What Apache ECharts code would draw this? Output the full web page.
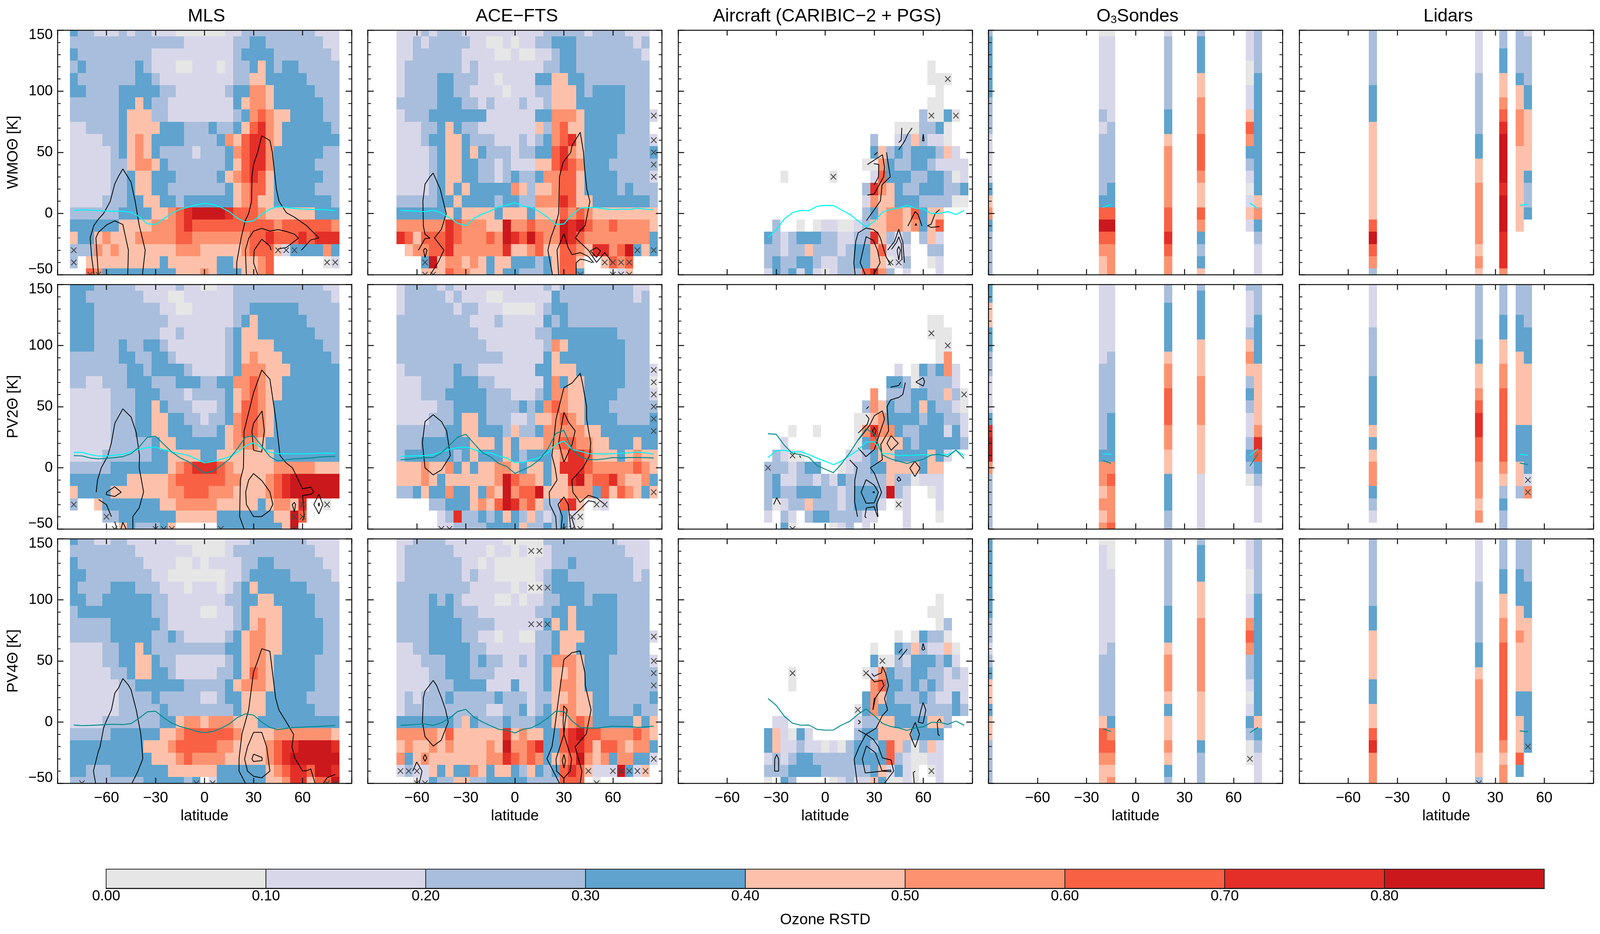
<!DOCTYPE html>
<html><head><meta charset="utf-8">
<style>html,body{margin:0;padding:0;background:#fff;overflow:hidden}#c{height:2391px}</style>
<script src="https://cdn.jsdelivr.net/npm/echarts@6/dist/echarts.min.js"></script>
</head><body><div id="c"></div>
<script>
// Each row string is one theta level (150 down to -50 K, every 10 K); each character a 5-degree latitude bin.
// Digit n means RSTD in [n/10, (n+1)/10); '.' means no data.
const MLS_WMO=["322111212211100000011222222222111","22222222222222 111111 22 33 2222222 11","3 222222222 1111111111 2 3333 2222222 1","2 3 222222 3 2 111 00 111 0 1 22 3 4 3 2 33 22222","3 2222222 33 2 111111111 22 44 33333 2222","33 2222 33333 22 111111 2 33 55 4 33333 222","222222 33 4 3 22 11111111 3 4 55 4 333333 22","222222 3 444 22 11111111 2 3 5 6 5 44 3333 22","11 2222 3 4444 333 222 3 22 3 4 6 7 5 4 333333 2","1111 22 3 4 5 4 3333 2222 3 5 4 6 77 5 4 3333333","11111 2 3 4 5 4 3 2222 1 222 3 5 6 77 5 333333 22","11111 22 4 55 4 3 2222222 3 4 6 77 5 33333 222","11111 22 3 44 333 22222 3 4 5 6 7 6 4 333333 22","11111 22 3 44 33 2222222 3 4 5 66 4 33333 222","1111 222 33 44 33 2 333333 4 5 6 4 4 3333333 2","222222 3333 44 5 6 7 8888 7 666 5 444444 333","333333 4444 555 6 7 6666666666 5 666666 5","4 33 4 5 444 55555 66 555555 5 66 7 666 7 6 777","222 5 4 5 4444444 555 44444 5 666 4 1 3333 5 3","2 . 444444444 3 444444 33 444 5 6 ...... 0 1",".. 6 5 333333333 444 5 4 333 44 5 6 ........"];
const MLS_PV2=["333 22222 11111 2 11 00 11 22222222222 11","33 2222222 111 00 111111 222222222222 1","333 22222222 11 00 11111 22 333333 22222","333 222222222 11111111 2 3 4 333333 2222","333 22222222 11 2 11111 2 3 44 3333333 222","333 222 3 22 33 2 1111111 2 3 4444 333333 22","222222 33 22 33 2 111111 2 3 4 5 444 333333 2","2222222 33 2 3333 2 1111 2 3 555 444 333333","22 11 222 333 222 333 22 33 55 6 5 44 3333333","11111 222 333 222 1 2222 3 4 5 6 5 44 3333333","11111 222 33 4 3 222 111 2 3 4 66 5 4 33333333","11111 222 33 44 33 22 1 22 3 5 66 5 4 33333333","11111 222 33 44 333 222 3 4 5 66 5 4 33333333","11111 222 22 3 44 333333 4 5 5 5 4 3 33333333","1111 222222 33 4444 33 4444444 33333333","22222 3333333 4 5 6 777 6 5 44444 55555 444","3333333 44444 5 666666 55 444 5 6 7 888888","4 3333 4444444 55 666 555 4444 5 6 7 888888","2 .. 4 3333333 44 55555 44444 3 4 55 4 7 .. 0 .",".... 22 3333333 44444 3333333 44 8 6 ....","..... . 4 3 222 3 4 ..... 33333333 4 8 ....."];
const MLS_PV4=["3 22 11 22 111111 000000 111 2222222 1111","22222222 1111111 0000 1 2222222222 111","3 22222222 1111 00 1 0 1111 22 33 222222 11","33 22222222 11 0000000 11 2 33333 22222 1","3 2222 333 222 111 0 111 0 1 2 3 4 333333 2222","33 22 333333 22 1111111 22 33 44 33333 222","2 333333333 22 1111 00 11 2 3 4444 3333 222","22222 333333 2 11111111 2 3 4 5 44 33333 22","22222 33333 22 3 2 11111 2 3 4 55 44 33333 22","1111 22 33 4 3 222222222 33 4 55 44 33333 22","1111 22 33 44 3 22 111111 2 3 4 55 4 33333 222","11111 22 3 44 33 2 11111 22 3 4 6 5 4 33333 222","111111 22 333333 22222 3 4 555 4 33333 222","111111 2222 3 22222 11 2 33 444 33333 2222","111111 22222 3 22222222 3 444 333333 222","1111 2222222 33 4 55 4 555 444 3333333333","22222 333333 44 5 666666 5 4444 5555555 4","333333333 444 5 66666 55 4444 5 6 77 8888 7","3333333333 444 5 6 5555 44444 5 6 7 888888","33 222 3333333 444444 333333 4 5 6 77 6 88 7","222222222 33333 2 3 . 1 333333 44 5 77 4 6 6 8"];
const ACE_WMO=["111 2 1 222 1111111111 22222 1 2222 111 .","11 2 1 22222 11 00 1 0 11 22 333 2222222 1 2 .","11 222222 1111 00 1 00 11 2 33 22222222 1 .","1 2222222 1 2 11111111 22 33 222222222 .","1 2222 33 222 11 0 1111 33 44 33 22222222 .","1 2222 33 22 1111 0 111 22 444 3 2 3333 222 .","22222 333 22 1 2 111 2 11 2 444 333333 222 .","1 222 3333333 111111 33 555 4 33333 222 1","111 22 3 4 3 22 1111111 4 2 5 6 44 33333 222 .","111 2 33 44 3 222 111 2 1 2 3 5 6 7 4 3333 2222 1","1111 2 3 44 3 4 3 222 1 22 33 6 7 5 4 3333 2222 3","1111 2 3 44 33 22 1 2 111 44 6 7 6 5 333 222222","1111 2 3 44 33 22 1 2 3 22 3 55 66 4 3333 2222 1","1111 2 3 4 3 4 33333 5 4 2 44 5 66 4 3333 2 3 222","22222 33 4 3333 2 33 22 555 7 6 44 3333333 2","333333 4 3 4444 3 444 3 444 6 5 6 5 44444444","555555 7 6 555 44 8 55 6 555 8 7 8 6 55 6 5555 4","7 6 4 666 7 6 555 6 5 8 7 6 8 6 55 8 7 6 55555555 3",". 4 55 66 7 555555 7 44 5 6 44 66 5 4 77 5 6 8 3 4 3","... 3 8 4 55 4 5 4 3 44 333 2 3 4 66 4 .. 4 6 5 6 ...","... 44 4 6 55 44 3 4 33 222 3 4 66 3 ... 0 1 4 ..."];
const ACE_PV2=["1 2222 1 2 11111111111 2 1 222222222 11 .","1 22222 1 2 111 00 111111 3 222222222 1 2 .","1 222222 1 22 111 0000 1 2 33 2222222222 .","222222222 111 2 11111 3 2 3 2222222222 .","2222222222 1111111 22 33333333 2222 .","22222222222 1111111 2 5 4 3333333 222 .","2222222222222 11111 3 4 33333333 222 .","1 222222 3 22 1111111 33 444 333333 222 1","111 2222 333 22 111111 3 5 3 44 33333 222 0","111 222 33333 222 111 2 3 55 44 3333 2222 1","11111 22 3333 2222 3 2 3 5 6 5 44 333 22222 2","1111 222 3 44 3 222 11 2 44 5 6 5 4 3333 2222 3","222222 33 44 333 2 4 22 3 55555 44 3333333","222 33333 3 444 3 4 3 444 55 66 55 44 333 4 33","2 333333 2 3 4 333 4 3 2 333 4 5 77 6 444 3 4 5 44","444 5 44 5 3 4 3 44 55 4 3 44 3 4 777 6 55555 6 5 4","444 5 4 3 444444 5 8 6 55 4 3 44 7 8 5 66 7 5 44 5 3","22 3 4 33 5 33 4 3 5 4 8 5 66 8 4 44 555 3 6 4 6 5 4 3 4",".... 22 333 4 5 4 6 8 7 5 6 4 22 6 7 4 . 0 1 ......","..... 1 2 7 22 3 2 3 4 3 2 4 2 1 2 3 1 0 .........","..... 11 2222 3333 4 22 3 2 3 1 0 ........."];
const ACE_PV4=["11 2222 1111111 00000 222222222 1111 .","1 222222 1111 0 11 0 1 00 1 222222222 111 .","1 2222222 11 0 1 00000 11 22 3 2222222 11 .","1 2222222 1 2 11 00000 1 2 33 22222222 1 2 .","222222222 11111 0 1 00 2 3333 22222222 .","2222 3 2 3 2 1111 00 1 0 11 22 333 2 333 2222 .","2222 333 222 1111111 22 33 4 33333 2222 .","2222 3333 2222 111111 3 4 3 4 33333 2222 .","2222 3333 22 11 0 11 00 22 3 444 3333 2222 1","11 22 33333 22 111111 22 3 44 33333 2222 .","111 222 333 2 3 22 11 2 1 2 3 555 4 333 22222 1","1111 22 333 222 11111 2 3 44 5 4 333 22222 2","1111 222 3333 111 3 11 2 3 4 55 4 333 22222 2","1 2 1 222 3 22222 3 222 1 22 44 5 44 33 22222 3","1 2222222222 11 22 3 1 2 3 4 55 44 33 222 3 22","3333333 2 4 3 222 3 222 33 44 5 6 5 33333 4 3 4","55555 4 6 444444 7 4 5 44 33 6 7 8 66 5555 6 5 4","4 5 44 5 4 5 4444 5 4 8 55 6 7 33 6 77 6 4 66 5 4 55 3","5 3 4 5 4444444 55 7 6 5 6 5 3 4 5 6 8 5 4 5 3 55 33 1","1 2 11 4 3 4 33 5 4 3 44 3 2 4 3 2 3 6 7 6 4 111 8 3 1 4 .",".. 0 1 3 22 44 22 33333 2222 666 . 0 ......."];
const AIR_WMO=["","","","....................0","....................000",".....................0","....................00","...................2 0 0 3 0","................000 22 3 0",".............2..1 2 4 2 11 0",".............3 4 2 3 2 333 2 4 1","............00 5 3 22 33 2 1111","..0.....0....1 6 333 22 33 2 0 1","............2 7 5 4 3 22 333 22 3","............1 5 44 333 2222 00","............2 3 4 55 4 6 3 44",".2..0.0 11 00 1 2 44 55 4 5 3 4 6","3 2 1 2 333 22 11 22 7 4 2 1 2 . 2 4 1","22 1 22 4 222 1 2 33 4 6 1 1 1 .. 22","2 3 22 33 2 11 22 33 44 0 1 2 .. 0 1","1 3 2 3 1 3 1 0 1 22 2 6 7 5 2 . 1 ... 1"];
const AIR_PV2=["","","","....................00","....................000",".....................00",".....................0 5","................1 . 0 3 2 3 5 1","...............33 2 0 2222 1",".............5 . 2 2 2 33 22 4 2 0","............2 5 4 3 22 3 4 3 22 1 0","...........00 4 5 3333 2 33 22 1","...0..0....0 5 7 55 3 22 333 1 3 1","..1........0 3 6 444 3 2 33333 2",".2 1 00 ..... 11 2 3 44 3333 4 3 1","222 1 2 33 .. 0 1 22 33 4444 3 44","2 3 11 22 1 2 1 3 22222 4 22 0 111","2 3 22 333 22 1 2 333 2 8 2 1 .. 0 1","2 0 1 22 4 222 1 2 333 1 . 0 1 ... 1","1 . 2 1 . 2 33 2222 11 ... 1 ... 0","..3 0 ....0 1 2 . 1 .... 1"];
const AIR_PV4=["","","","","",".....................0","....................00",".....................0 2","................0 . 0 3 22 0",".............0 .. 3 2 4 2 11 4 0",".............3 00 2 1 333 2 3 1","...0........0 1 5 3 22 33 22 1 2 1","...0.........5 6 33 2 3 2 3 2 111","............3 5 4 3 222 3 2 11 3 1","...........0 3 5 3333 22222 3 2",".11........1 22 44 3333 44 2","3 4 1 0 3 1 ..... 2 33 4444 3333","3 4 11 2 11 0 1 0 2 33 2 3 6 4 2 0 2 4 1","1 2 1 2 33 22222 3333 6 2 1 00 11","222 3333 222222 3 4 1 3 1 0 . 0 1","0 . 3 2 .... 0 1 2 11 4 3 00 1 0 .. 1"];
// Station columns: latitude -> bins from 150 K down to -50 K
const SONDE_WMO={"-90":"2 33333 222 1111 3 4 5 3 2222","-20":"0 111111 2 1 22222 3 6 8 6 5 4 4","-15":"0 1111111 22222 33 6 8 6 555","20":"1 222222 33 4 55555 66 7 6 55","40":"2 333 44 555 666 5 44 6 5 3 2 3 4","70":"111 00 11 4 6 5 3 2 1 0 1 4 1 ....","75":"2222 3333333333 4 5 3 2 111"};
const SONDE_PV2={"-90":"33 44 33 22 111 3 7 88 5 22222","-20":"1111111 2222222 3 55 4 5 4 5","-15":"111111 22222 3333 5 6 5 55 6","20":"22 3333 4 55 666 55 44 333 22","40":"2 3333 444 5555 4444 11111","70":"2 111 2 4 5 4 2 3 2 11 2 3 2 0 ....","75":"222 3333 44444 5 7 6 3 2 111 ."};
const SONDE_PV4={"-90":"3333333 22 1 2 3 44 3 44 2222","-20":"0 111111111 22222 4 66 5 44","-15":"000 111111 222222 3 5 6 5 4 5","20":"222222 333 4 555 4 3 44 5 4 3 2","40":"2 333 444 555555 4444 3 222","70":"111 00 11 5 6 5 22 1 0 1 3 2 00 ..","75":"22222 3333333333 4 3 2 111"};
const LIDAR_WMO={"-45":"22222 333 44444444 6 8 6 5 2","20":"1111 22222 33 44 55555 4 5 4","35":"22 33 44 5 6 7 8888 7 888 777 5","45":"2222 3 44 555 4444444 ....","50":"1 2222 33 44444 3 22 3 ....."};
const LIDAR_PV2={"-45":"1111 2222 3333 4 3 4 55 3 2 1 .","20":"22222 33 44 5 6 77 66 555 4 5 .","35":"222 33 44 55 666666 5 4 2 3 22","45":"222 333 444444 333 44 2 ...","50":"2222 333 44444 3333 1 5 ..."};
const LIDAR_PV4={"-45":"222222 33 4444 33 44 6 7 555","20":"1111 22222 33 4 555555 44 2","35":"222 33 44 55 66666666 5 4 55","45":"222 333 44 5 4444 33 444 6 3 .","50":"2222 333 444444 33 333 ..."};

// Flagged bins (lat, theta)
const X_MLS_WMO=[[-80,-30],[45,-30],[50,-30],[55,-30],[-80,-40],[75,-40],[80,-40],[-70,-50],[-65,-50]];
const X_MLS_PV2=[[-80,-30],[60,-30],[75,-30],[-60,-40],[55,-40],[60,-40],[-55,-50],[-30,-50],[-25,-50],[-20,-50],[10,-50],[55,-50]];
const X_MLS_PV4=[[-75,-50],[-5,-50],[5,-50],[75,-50],[80,-50]];
const X_ACE_WMO=[[85,80],[85,60],[85,50],[85,40],[85,30],[75,-30],[85,-30],[-55,-40],[55,-40],[60,-40],[65,-40],[70,-40],[-55,-50],[-50,-50],[40,-50],[60,-50],[65,-50],[70,-50]];
const X_ACE_PV2=[[85,80],[85,70],[85,60],[85,50],[85,40],[85,30],[85,-20],[50,-30],[55,-30],[35,-40],[40,-40],[-45,-50],[-40,-50],[30,-50],[35,-50],[40,-50]];
const X_ACE_PV4=[[10,140],[15,140],[10,110],[15,110],[20,110],[10,80],[15,80],[20,80],[85,70],[85,50],[85,40],[85,30],[85,-30],[-70,-40],[-65,-40],[-60,-40],[45,-40],[60,-40],[65,-40],[70,-40],[75,-40],[80,-40],[-60,-50],[-55,-50],[50,-50]];
const X_AIR_WMO=[[75,110],[65,80],[80,80],[5,30],[40,-40],[45,-40]];
const X_AIR_PV2=[[65,110],[75,100],[85,60],[-20,10],[-35,0],[45,-30],[-20,-50]];
const X_AIR_PV4=[[35,50],[-20,40],[25,40],[20,10],[65,-40]];
const X_SONDE_PV4=[[70,-30]];
const X_LIDAR_PV2=[[50,-10],[50,-20]];
const X_LIDAR_PV4=[[20,-50],[50,-20]];

// Tropopause curves: theta every 5 degrees latitude, from the first latitude named in the panel table
const CYAN_MLS_WMO=[2.5,3,2.8,2.3,2,1.8,1.9,1,-2.6,-8.4,-9,-4.3,.3,3.4,5.1,7.2,8.4,7.5,5.1,1.6,-3.7,-7,-6,-.7,3.4,5.9,4.8,4.1,3.7,3.4,3.2,2.9,2.5];
const CYAN_ACE_WMO=[2.5,2.2,1.8,1.5,2.7,.4,-3.5,-8,-10,-4,-.5,2,5.4,6.7,9,6,5,1.5,-3,-9,-8.6,-1,4.4,4.8,4.9,3.8,3.2,3.6,3.4,4.3,3.5,3.1];
const CYAN_AIR_WMO=[-19.5,-13.6,-4.4,.7,2.5,2.3,5.9,6.6,6.5,2.9,-.7,-5.9,-11,-6.6,1,3.4,4.4,6.7,4.4,3.7,0,0,1.6,-.9,2.5];
const CYAN_MLS_PV2=[12.5,12.6,10.8,9.6,9.7,10.2,11,12.9,15,16.5,16.9,14.8,12.9,11.5,10.2,7.2,4,5.1,6.9,8.9,12.5,18,20.5,16.3,12.7,11.6,11.4,11.4,11.4,11.5,11.9,12,11.9];
const TEAL_MLS_PV2=[10,9.7,8,7.3,7.8,8.3,9.1,11.5,17,25,25.8,19.4,12.9,8.2,5.1,.4,-4.4,-2.8,1.7,6.9,15.5,24.9,26.3,17.7,9.1,5.5,6.6,7.3,7.6,8,8.7,9.1,9.3];
const CYAN_ACE_PV2=[9.3,9.6,9.8,10,10.8,12.9,15,16.5,17,15,12.2,12.2,9.7,8,4.3,4.4,6.6,8.3,12.2,19,22,15,13.6,11.5,11.4,11.2,11.6,11.8,12.2,12.9,12.2,11.2];
const TEAL_ACE_PV2=[6.6,7,7.8,8.4,8.2,12.2,18.4,25,27.4,19.8,12.5,9.1,3.6,1.1,-4.6,-1.7,1.5,6.6,15,28,30.6,15,9.1,6.6,6.6,7.3,8.4,8,8.4,8.4,8.3,8];
const CYAN_AIR_PV2=[8.4,14,14.3,12.9,13.2,10.8,7.8,5.3,2.5,5.5,10,14.3,21,21.3,11.5,11.4,9.8,10.2,10.2,10.8,10.2,11.2,10.7,14.3,10];
const TEAL_AIR_PV2=[27.8,27.4,18.4,11.8,10.8,8.6,1.8,-1.2,-4,3.2,12.2,22.6,32,27.7,10.5,7.3,5.3,3.6,5.3,7,10.5,11,9,14.5,7.6];
const TEAL_MLS_PV4=[-2.4,-2.9,-2.7,-2.4,-2,-1.8,-2.1,-1.2,3.2,8.4,8.9,3.6,-.9,-3.6,-5.4,-7.5,-8.6,-7.8,-5.1,-1.7,3.6,6.8,5.7,0,-4.4,-6.2,-5.1,-4.4,-4.1,-3.8,-3.5,-3.2,-2.7];
const TEAL_ACE_PV4=[-2.7,-2.3,-1.8,-1.5,-2.7,-.6,3.2,8.7,10.4,3.9,.2,-2.9,-5.9,-6.6,-8.9,-5.9,-4.8,-1.4,3.2,8.9,8.7,.9,-4.4,-4.8,-5,-4.1,-3.3,-3.5,-3.5,-4.4,-3.9,-3.3];
const TEAL_AIR_PV4=[19.3,13.7,4.7,-.9,-2.6,-2.4,-6,-6.6,-6.5,-2.4,.6,6.2,10.7,5.4,-1.1,-3.6,-4.8,-6.8,-4.8,-3.9,-.2,-.2,-1.8,.8,-2.6];
// Short pieces on the station panels: [lat,theta] pairs
const CYAN_SONDE_WMO=[[[-20,5],[-15,7.5]],[[70,8.6],[75,3.7]]];
const CYAN_LIDAR_WMO=[[[45,6.7],[50,7.5]]];
const CYAN_SONDE_PV2=[[[-20,11.4],[-15,11]],[[70,10],[75,15.6]]];
const TEAL_SONDE_PV2=[[[-20,6],[-15,3.6]],[[70,1.5],[75,11.5]]];
const CYAN_LIDAR_PV2=[[[45,11.2],[50,10.2]]];
const TEAL_LIDAR_PV2=[[[45,3.9],[50,2.6]]];
const TEAL_SONDE_PV4=[[[-20,-5.5],[-15,-7.6]],[[70,-8.7],[75,-4.2]]];
const TEAL_LIDAR_PV4=[[[45,-7.2],[50,-7.9]]];

// Contours as [lat,theta,lat,theta,...]
const C_MLS_WMO=[
[-67.6,-50,-69,-36.7,-70,-20,-67.8,-10,-65,-4.7,-61.8,0,-57.7,10,-55,24,-52.6,30.5,-50,36.4,-47,30,-45,25.7,-42.5,10.3,-40,-9.5,-36.3,-30,-38,-50],
[-65,-50,-66,-30,-66.5,-20,-65,-15.5,-60,-9.4,-55,-6,-50,-9,-46.6,-30,-47,-50],
[19.7,-50,19.7,-40,22.4,-20,25,-5.6,27,0,28.8,10,29,30,30,40.3,32.5,50,35,63.5,40,59.7,41.5,50,44,19.8,45.6,10,50,.7,55,-3,62.5,-10,70,-20,65,-21.6,59.3,-30],
[25.6,-50,25,-30,27,-20.5,30,-14.4,35,-12.2,40,-14.4,45,-13.2,50,-14.7,55,-16.9,57.5,-20.2,50,-27.9,45,-29],
[32.5,-50,30,-40.3,30.4,-30,35,-21,40,-26.7,40.7,-30]];
const C_ACE_WMO=[
[-59,-30,-55,-20.5,-52,-20.2,-55,-16.9,-56,-10.3,-56.3,10,-55,24,-52,30,-50,33,-45.7,20,-42,0,-45,-13,-49.2,-20,-43.4,-30,-47,-40,-51.7,-50],
[-55,-28.4,-53.8,-30,-55,-36,-55.9,-30,-55,-28.4],
[23,-50,20.2,-30,22,-19.8,25,-8.8,26.8,0,27.3,30,29.5,41.8,34.2,50,35,55.7,40,66.4,42,50,42.5,39.6,44,19.8,45.9,10,43,-9.9,40,-14,37,-20,45,-30,50,-40,55,-31.9,59.6,-40],
[26.8,-50,25.8,-30,30,-16.4,32.6,-27.9,35,-33.7,40,-32,45,-35.2,48.3,-40.3],
[37.5,-50,37.5,-40.3,40,-37.4,43,-38,47.5,-40.3],
[46.2,-30.5,50,-27.9,52.4,-30.5,50,-36,46.2,-30.5]];
const C_AIR_WMO=[
[18.3,-50,17.5,-40.3,18.7,-22.7,20.2,-15.8,25,-11.9,29.5,-13.2,32.3,-16.1,33.8,-20.2,37,-34.5,40,-42.5],
[24.5,-50,21.4,-40.3,25,-19,29.5,-22,32,-30,33.6,-40.3,29.5,-50],
[38.2,-30,42.5,-22.7,45,-12.9,47.5,-23.5,48.5,-40.3],
[40.6,-29.3,43.7,-23.5,45,-19,46.6,-25,47,-38],
[44,-30,45,-27,46,-30,45,-38,44,-30],
[25.2,-5.9,30.7,4.4,33.8,10.3,34.8,23.5,39.8,30,37.5,50],
[25.8,15,30,16,35.7,30,36.3,38,35,48,25.8,40],
[30,23.5,32.6,30,32.8,40,29.7,40.8],
[30,47.8,32,50],
[45,52,48.7,59.4,50.6,65,53.2,70],
[45,58,46.5,60,46.9,70],
[60,65,60.5,59.4,59.5,59.4,60,65],
[50.6,-10.3,55,1.5,56.8,-.7,59.2,-10.3],
[55,-10,55.5,-8.2,56,-10],
[70,3.2,67.3,0,64.8,-8.8,62.6,-10,64.8,-11.4,70,-10.6]];
const C_MLS_PV2=[
[-66.3,-20,-65.5,-10,-63.2,0,-59.3,9.4,-57,20.5,-54.9,36.4,-50,48.2,-45,41.6,-41.8,28.8,-39.8,10,-40,0,-37.3,-19.7,-40,-32.8,-43.9,-39.9,-43.9,-50],
[-60,-20,-55,-15.5,-51,-20,-55,-23.5,-60,-22,-60,-20],
[-64.8,-26,-60,-30.2,-57,-40],
[-55,-44,-53.5,-50],
[-51.2,-50,-50,-44.6,-48,-50],
[24.2,-50,21.5,-40,21.9,-10,23.8,0,24.2,30,30,61.4,35,80,40,72.4,43.5,41,45.3,20.5,46.2,10,50,3.9,53.8,0,60,-17.2,65,-15.8,66.9,-20,65,-21.7,60,-22.7,61,-40,60,-43.2],
[30,-4.7,35.2,-10.7,40,-19.7,41.8,-30,40,-34.9,35,-39.9,30,-39.9,25.6,-30,25.2,-19.7,27,-10,30,-4.7],
[30,14.3,35,12.9,36.6,30.2,35.2,46.5,30,36.4,29,30.2,30,14.3],
[55,-28.3,55.7,-30,55,-36,53.7,-30,55,-28.3],
[70,-21.7,72.4,-30,70,-37.7,66.9,-30,70,-21.7],
[70,-28.6,70.4,-30,70,-31.4,69.6,-30,70,-28.6]];
const C_ACE_PV2=[
[-50,43.4,-44.9,37.8,-41.8,30.2,-39.5,10,-44.9,-1.7,-50,-5.8,-55,0,-56.6,20.5,-55,37.8,-50,43.4],
[25.5,-50,25,-40,21.4,-30,21,-20,25.8,-10,24.6,0,22.7,10,25.2,40,30,65.5,35,69.4,40,77.3,41.4,69,43.9,50,43.9,40,46.4,20.5,45.8,10,41.5,-.3,34.9,-10,35.5,-20,40,-28.3,45,-22.5,50,-24.6,55,-30],
[30,45.4,33,37,36.9,30.2,35,19,30,4.6,26.8,20.5,30,45.4],
[28.3,-50,29,-40,26.4,-30,30,-23.8,32.6,-30,34.2,-50],
[36.9,-50,34.7,-40.4,40,-33.8,45,-26.9,49.3,-28]];
const C_AIR_PV2=[
[19.8,-40,18,-28,18.1,-10,19.6,0,15,6.4],
[32.3,-40,31.4,-30,34.5,-20,30.1,-4.4,27.6,0,35,6.6,34,19,38.8,30.2,37.9,50.3,40,55.5,45,57.5,47.5,60,49,69.7],
[25,-9.7,29.9,-14.1,32.6,-20,30,-28.7,25,-29,22,-20,25,-9.7],
[29,-20,30,-19.5,30,-20.5,29,-20],
[32,-40,30,-31.9,25.2,-32.8,24.3,-40,25.2,-41],
[20.2,16.3,24.9,9.1,30.1,15,32.8,26,36.3,39.9,35,46.5,30.1,42.7,27,34.3,20.2,22.6],
[20.2,28.4,25.8,35.7,26.8,40.2,24.9,43.4],
[25.2,48.2,26.6,50],
[30,33.2,31,30.2,30,26,29,30.2,30,33.2],
[40.3,26.3,44.7,20,40.3,14.3,37.8,20,40.3,26.3],
[54.9,5.3,58,-.3,54.9,-7.2,51.8,-.3,54.9,5.3],
[45,-7.2,46.3,-10,45,-11,44,-9.7,45,-7.2],
[40,65.9,45,67.3,46.2,70],
[59.9,73.8,60.8,70.4,60,66.8,55.5,70.1,59.9,73.8],
[-31.5,-30,-29.7,-24.5,-27.4,-30],
[-15.7,10,-15,8.3]];
const C_MLS_PV4=[
[-66.7,-50,-68,-40,-65,-24,-63.9,-20,-61.8,-5,-60.4,0,-57,10,-54.9,23.8,-52.6,28,-50,35.6,-46.6,30.3,-45,26.5,-41.8,10,-39,-9.7,-37.8,-30,-40.7,-40,-44.4,-50],
[25,-50,21.1,-40,21.1,-30,22.9,-9.7,27,10,30,40.9,32.5,49.9,35,60,40,57.9,43.5,19.8,45.5,10,51,-2.1,54.5,-10,53.5,-20.2,55.2,-29.3,60,-40.1,62.5,-39.8,65,-38.3,67.6,-50],
[30,-8.4,35,-8.4,38,-20.2,40,-40.1,35,-45.6,30,-44.3,26.3,-40.1,24.5,-30.2,26.3,-20.2,30,-8.4],
[30,-26.2,35.2,-29,35.2,-31.5,30,-32.3,29,-30.2,30,-26.2],
[72.7,-50,75.1,-45.4,80,-42.8]];
const C_ACE_PV4=[
[-50,34.1,-47.9,29.9,-44.9,19.8,-42.4,10,-40.8,0,-45.1,-14.9,-50,-19.6,-55,-11.9,-56.6,0,-56,19.8,-55,25.3,-50,34.1],
[27.3,-50,19.6,-30,22.7,-20.2,23.9,-9.7,26.8,19.8,28.9,40.1,30,51.1,34.9,56.7,39.9,58.2,42.9,40.1,43.1,29.9,46.6,10,43.7,-9.7,36.9,-20.2,41,-40.1,40,-50],
[30,-45.9,25.5,-40.1,25.2,-30.2,30,-10,34.7,-30.2,33.8,-40.1,30,-45.9],
[30,-10,29.5,0,29.9,13.3,32,10,30.7,0,30,-10],
[30,-26.5,31,-31.5,30,-37.6,29,-31.5,30,-26.5],
[-55,-26.5,-53.9,-29.3,-55,-32,-56.1,-29.3,-55,-26.5],
[-58.5,-50,-56.8,-40.1,-60.1,-32.6,-62.5,-40.1]];
const C_AIR_PV4=[
[19.6,-50,17.7,-30.2,20.8,-20.2,24.9,-10,31.1,-5.1,35,5.4,38.2,10,36.3,19,38.8,29.9,36.9,40.1,35,45.4,34.4,40.1,32.6,39.3,29.9,37.4,28.5,39.7],
[20.2,-6.6,24.9,-10,29.5,-14.2,32.6,-20.2,35,-29.3,40.3,-31,41.9,-40.1,36.3,-50],
[25.2,-19.5,30.7,-25,34.8,-40.1,24.5,-41.6,22.7,-30.2,25.2,-19.5],
[34.8,-39.8,40,-39.2,40.3,-40.6,34.8,-40.1],
[25.8,39.4,30.1,32.9,34.8,34.1,36,29.9,30.7,19.8,29.2,10,30.1,19.8],
[20.2,1.7,21.6,0,20.2,-1.7],
[55.1,-.3,57.7,-10,55.1,-20.7,51.8,-10,55.1,-.3],
[59.9,16,61.6,10,59.9,-1,56.9,0,58.6,10,59.9,16],
[71,0,70,2.7,68.5,0,69.1,-10,70,-11.2],
[-29.7,-26.5,-30.9,-30.2,-31,-40.1,-28.5,-40.1,-28.5,-30.2,-29.7,-26.5],
[45,51,50.2,59.7],[45,56.7,47,59.7],
[59.9,64.3,60.9,59.7,59.9,58.8,59.2,59.7,59.9,64.3],
[55.1,-40.1,53.9,-41.3,54.5,-50]];

const COLORS=["#E6E6E6","#D8D7EA","#A9BEDC","#5FA3CE","#FDC1AB","#FD9270","#F96145","#E32F27","#CA181C"];
const COLUMN_TITLES=["MLS","ACE\u2212FTS","Aircraft (CARIBIC\u22122 + PGS)","O{sub|3}Sondes","Lidars"];
const ROW_TITLES=["WMO\u0398 [K]","PV2\u0398 [K]","PV4\u0398 [K]"];
const CB_TICKS=[0,.1,.2,.3,.4,.5,.6,.7,.8];

const curve=(start,vals)=>vals.map((t,i)=>[start+5*i,t]);
const pairs=a=>{const o=[];for(let i=0;i<a.length;i+=2)o.push([a[i],a[i+1]]);return o;};
function rowsToCells(rows,startLat){
  const out=[];
  rows.forEach((r,ri)=>{
    const s=r.replace(/ /g,'');
    for(let i=0;i<s.length;i++){
      if(s[i]==='.')continue;
      out.push([startLat+5*i,150-10*ri,(+s[i]+.5)/10]);
    }
  });
  return out;
}
function colsToCells(cols){
  const out=[];
  Object.keys(cols).forEach(k=>{
    const s=cols[k].replace(/ /g,'');
    for(let i=0;i<s.length;i++){
      if(s[i]==='.')continue;
      out.push([+k,150-10*i,(+s[i]+.5)/10]);
    }
  });
  return out;
}
const PANELS=[
 [{cells:rowsToCells(MLS_WMO,-80),x:X_MLS_WMO,cont:C_MLS_WMO,cyan:[curve(-80,CYAN_MLS_WMO)],teal:[]},
  {cells:rowsToCells(ACE_WMO,-70),x:X_ACE_WMO,cont:C_ACE_WMO,cyan:[curve(-70,CYAN_ACE_WMO)],teal:[]},
  {cells:rowsToCells(AIR_WMO,-35),x:X_AIR_WMO,cont:C_AIR_WMO,cyan:[curve(-35,CYAN_AIR_WMO)],teal:[]},
  {cells:colsToCells(SONDE_WMO),x:[],cont:[],cyan:CYAN_SONDE_WMO,teal:[]},
  {cells:colsToCells(LIDAR_WMO),x:[],cont:[],cyan:CYAN_LIDAR_WMO,teal:[]}],
 [{cells:rowsToCells(MLS_PV2,-80),x:X_MLS_PV2,cont:C_MLS_PV2,cyan:[curve(-80,CYAN_MLS_PV2)],teal:[curve(-80,TEAL_MLS_PV2)]},
  {cells:rowsToCells(ACE_PV2,-70),x:X_ACE_PV2,cont:C_ACE_PV2,cyan:[curve(-70,CYAN_ACE_PV2)],teal:[curve(-70,TEAL_ACE_PV2)]},
  {cells:rowsToCells(AIR_PV2,-35),x:X_AIR_PV2,cont:C_AIR_PV2,cyan:[curve(-35,CYAN_AIR_PV2)],teal:[curve(-35,TEAL_AIR_PV2)]},
  {cells:colsToCells(SONDE_PV2),x:[],cont:[],cyan:CYAN_SONDE_PV2,teal:TEAL_SONDE_PV2},
  {cells:colsToCells(LIDAR_PV2),x:X_LIDAR_PV2,cont:[],cyan:CYAN_LIDAR_PV2,teal:TEAL_LIDAR_PV2}],
 [{cells:rowsToCells(MLS_PV4,-80),x:X_MLS_PV4,cont:C_MLS_PV4,cyan:[],teal:[curve(-80,TEAL_MLS_PV4)]},
  {cells:rowsToCells(ACE_PV4,-70),x:X_ACE_PV4,cont:C_ACE_PV4,cyan:[],teal:[curve(-70,TEAL_ACE_PV4)]},
  {cells:rowsToCells(AIR_PV4,-35),x:X_AIR_PV4,cont:C_AIR_PV4,cyan:[],teal:[curve(-35,TEAL_AIR_PV4)]},
  {cells:colsToCells(SONDE_PV4),x:X_SONDE_PV4,cont:[],cyan:[],teal:TEAL_SONDE_PV4},
  {cells:colsToCells(LIDAR_PV4),x:X_LIDAR_PV4,cont:[],cyan:[],teal:TEAL_LIDAR_PV4}]
];

const FONT='"Liberation Sans", Arial, sans-serif';
// The browser window may be narrower than asked for; the layout follows the real width.
const SX=Math.min(1,window.innerWidth/4537), FS=Math.sqrt(SX);
const LEFTS=[163,1043,1923,2803,3684].map(v=>v*SX), TOPS=[77,728,1379], W=834*SX, H=626;
const INK='#111';
const minusFmt=v=>String(v).replace('-','\u2212');
const box=document.getElementById('c');
box.style.width=Math.round(4537*SX)+'px';
const chart=echarts.init(box,null,{renderer:'canvas',width:Math.round(4537*SX),height:2391,devicePixelRatio:1});

const grid=[],xAxis=[],yAxis=[],series=[],title=[];
function renderCell(p,api){
  const lat=api.value(0),th=api.value(1),v=api.value(2);
  const a=api.coord([lat-2.5,th+5]),b=api.coord([lat+2.5,th-5]);
  const x0=Math.round(a[0]),y0=Math.round(a[1]),x1=Math.round(b[0]),y1=Math.round(b[1]);
  return {type:'rect',shape:{x:x0,y:y0,width:x1-x0,height:y1-y0},style:{fill:COLORS[Math.min(8,Math.floor(v*10))]}};
}
function renderX(p,api){
  const c=api.coord([api.value(0),api.value(1)]),rx=7.5*SX,ry=7;
  const st={stroke:'#444',lineWidth:2.2,fill:null};
  return {type:'group',children:[
    {type:'line',shape:{x1:c[0]-rx,y1:c[1]-ry,x2:c[0]+rx,y2:c[1]+ry},style:st},
    {type:'line',shape:{x1:c[0]-rx,y1:c[1]+ry,x2:c[0]+rx,y2:c[1]-ry},style:st}]};
}
PANELS.forEach((row,ri)=>row.forEach((pn,ci)=>{
  const g=grid.length;
  grid.push({left:LEFTS[ci],top:TOPS[ri],width:W,height:H,containLabel:false});
  const xs=xAxis.length, ys=yAxis.length;
  const line={show:true,onZero:false,lineStyle:{color:INK,width:2.5}};
  xAxis.push({type:'value',gridIndex:g,min:-90,max:90,interval:30,position:'bottom',z:6,axisLine:line,splitLine:{show:false},
    axisTick:{show:true,inside:true,length:14,lineStyle:{color:INK,width:2.5}},
    axisLabel:{show:ri===2,margin:20,fontFamily:FONT,fontSize:40*FS,color:'#000',formatter:v=>Math.abs(v)===90?'':minusFmt(v)},
    name:ri===2?'latitude':'',nameLocation:'middle',nameGap:66,nameTextStyle:{fontFamily:FONT,fontSize:40*FS,color:'#000'}});
  xAxis.push({type:'value',gridIndex:g,min:-90,max:90,interval:30,position:'top',z:6,axisLine:line,splitLine:{show:false},
    axisTick:{show:true,inside:true,length:14,lineStyle:{color:INK,width:2.5}},axisLabel:{show:false}});
  const yCommon={type:'value',gridIndex:g,min:-50,max:150,interval:50,z:6,axisLine:line,splitLine:{show:false},
    axisTick:{show:true,inside:true,length:17*SX,lineStyle:{color:INK,width:2.5}},
    minorTick:{show:true,splitNumber:5,length:9*SX,lineStyle:{color:INK,width:2}},minorSplitLine:{show:false}};
  yAxis.push(Object.assign({},yCommon,{position:'left',
    axisLabel:{show:ci===0,margin:12,fontFamily:FONT,fontSize:39*FS,color:'#000',lineHeight:26,
      verticalAlignMinLabel:'bottom',verticalAlignMaxLabel:'top',formatter:minusFmt},
    name:ci===0?ROW_TITLES[ri]:'',nameLocation:'middle',nameRotate:90,nameGap:93,
    nameTextStyle:{fontFamily:FONT,fontSize:41*FS,color:'#000'}}));
  yAxis.push(Object.assign({},yCommon,{position:'right',axisLabel:{show:false}}));
  series.push({type:'custom',coordinateSystem:'cartesian2d',xAxisIndex:xs,yAxisIndex:ys,clip:true,silent:true,z:2,
    encode:{x:0,y:1},data:pn.cells,renderItem:renderCell,animation:false});
  pn.cont.forEach(c=>series.push({type:'line',xAxisIndex:xs,yAxisIndex:ys,data:pairs(c),showSymbol:false,silent:true,z:3,clip:true,
    lineStyle:{color:'#000',width:2},animation:false}));
  pn.cyan.forEach(c=>series.push({type:'line',xAxisIndex:xs,yAxisIndex:ys,data:c,showSymbol:false,silent:true,z:4,clip:true,
    lineStyle:{color:'#00F5F5',width:2.6},animation:false}));
  pn.teal.forEach(c=>series.push({type:'line',xAxisIndex:xs,yAxisIndex:ys,data:c,showSymbol:false,silent:true,z:4,clip:true,
    lineStyle:{color:'#008B8B',width:2.4},animation:false}));
  if(pn.x.length)series.push({type:'custom',coordinateSystem:'cartesian2d',xAxisIndex:xs,yAxisIndex:ys,clip:true,silent:true,z:5,
    encode:{x:0,y:1},data:pn.x,renderItem:renderX,animation:false});
}));
COLUMN_TITLES.forEach((t,ci)=>title.push({text:t,left:LEFTS[ci]+W/2,top:14,textAlign:'center',
  textStyle:{fontFamily:FONT,fontSize:49*FS,fontWeight:'normal',color:'#000',rich:{sub:{fontFamily:FONT,fontSize:30*FS,verticalAlign:'bottom',padding:[18,0,0,0]}}}}));

// Colour bar
const cbG=grid.length;
grid.push({left:301*SX,top:2225,width:4078*SX,height:49});
const cbX=xAxis.length,cbY=yAxis.length;
xAxis.push({type:'value',gridIndex:cbG,min:0,max:.9,interval:.1,position:'bottom',z:6,
  axisLine:{show:true,onZero:false,lineStyle:{color:INK,width:2.5}},axisTick:{show:false},splitLine:{show:false},
  axisLabel:{show:true,margin:2,fontFamily:FONT,fontSize:39*FS,color:'#000',formatter:v=>CB_TICKS.some(t=>Math.abs(t-v)<1e-6)?v.toFixed(2):''},
  name:'Ozone RSTD',nameLocation:'middle',nameGap:62,nameTextStyle:{fontFamily:FONT,fontSize:41*FS,color:'#000'}});
yAxis.push({type:'value',gridIndex:cbG,min:0,max:1,position:'left',axisLine:{show:false},axisTick:{show:false},axisLabel:{show:false},splitLine:{show:false}});
series.push({type:'custom',coordinateSystem:'cartesian2d',xAxisIndex:cbX,yAxisIndex:cbY,silent:true,z:2,
  encode:{x:0,y:1},data:COLORS.map((c,i)=>[i/10,1,i]),animation:false,
  renderItem:(p,api)=>{
    const i=api.value(2),a=api.coord([i/10,1]),b=api.coord([(i+1)/10,0]);
    return {type:'rect',shape:{x:a[0],y:a[1],width:b[0]-a[0],height:b[1]-a[1]},style:{fill:COLORS[i],stroke:'#222',lineWidth:2}};
  }});

chart.setOption({animation:false,backgroundColor:'#fff',title,grid,xAxis,yAxis,series,
  textStyle:{fontFamily:FONT}});
</script></body></html>
